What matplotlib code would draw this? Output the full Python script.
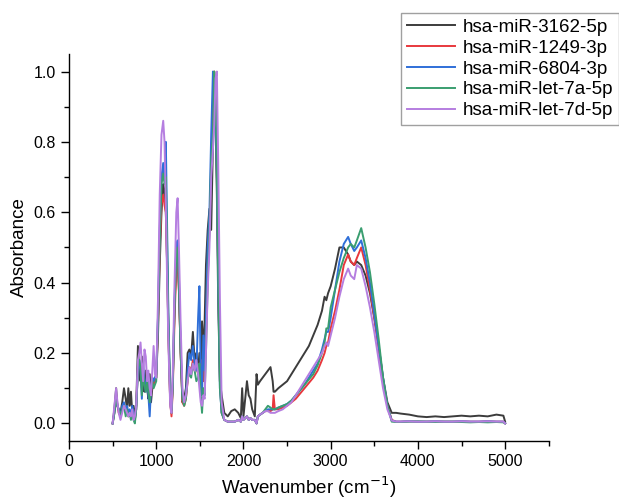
import matplotlib
matplotlib.use("Agg")
import matplotlib.pyplot as plt
from matplotlib.ticker import MultipleLocator

plt.rcParams['font.family'] = ['Liberation Sans', 'DejaVu Sans']

wavenumber = [500, 520, 540, 555, 570, 590, 610, 630, 650, 665, 680, 695, 710, 725, 740, 755, 770, 790,
              805, 820, 835, 850, 865, 880, 895, 910, 925, 940, 955, 970, 985, 1000, 1020, 1040, 1060,
              1080, 1095, 1110, 1125, 1140, 1160, 1175, 1190, 1210, 1230, 1245, 1260, 1280, 1300, 1320,
              1340, 1360, 1380, 1400, 1420, 1440, 1460, 1480, 1495, 1510, 1525, 1540, 1555, 1570, 1590,
              1610, 1630, 1650, 1665, 1680, 1695, 1710, 1730, 1750, 1780, 1820, 1860, 1900, 1940, 1970,
              1985, 2000, 2020, 2040, 2060, 2080, 2100, 2130, 2150, 2165, 2190, 2220, 2250, 2280, 2310,
              2335, 2345, 2360, 2400, 2450, 2500, 2550, 2600, 2650, 2700, 2750, 2800, 2850, 2900, 2930,
              2950, 2970, 3000, 3050, 3100, 3150, 3200, 3230, 3270, 3300, 3350, 3400, 3450, 3500, 3550,
              3600, 3650, 3700, 3750, 3800, 3900, 4000, 4100, 4200, 4300, 4400, 4500, 4600, 4700, 4800,
              4900, 4980, 5000]

mir_3162 = [0.0, 0.04, 0.10, 0.05, 0.04, 0.03, 0.06, 0.10, 0.07, 0.04, 0.10, 0.05, 0.09, 0.03, 0.05, 0.02, 0.05, 0.22,
            0.15, 0.12, 0.19, 0.10, 0.09, 0.15, 0.10, 0.07, 0.14, 0.06, 0.10, 0.12, 0.13, 0.13, 0.25, 0.45, 0.60,
            0.68, 0.66, 0.60, 0.45, 0.25, 0.06, 0.03, 0.12, 0.33, 0.46, 0.48, 0.38, 0.20, 0.06, 0.07,
            0.10, 0.20, 0.21, 0.19, 0.26, 0.18, 0.20, 0.15, 0.20, 0.12, 0.29, 0.20, 0.29, 0.45, 0.55,
            0.61, 0.55, 0.80, 0.98, 0.85, 0.65, 0.35, 0.12, 0.08, 0.03, 0.02, 0.035, 0.04, 0.03, 0.015,
            0.10, 0.02, 0.07, 0.12, 0.08, 0.07, 0.04, 0.02, 0.14, 0.11, 0.12, 0.13, 0.14, 0.15, 0.16,
            0.12, 0.09, 0.09, 0.10, 0.11, 0.12, 0.14, 0.16, 0.18, 0.20, 0.22, 0.25, 0.28, 0.32, 0.36,
            0.35, 0.37, 0.39, 0.44, 0.50, 0.50, 0.48, 0.46, 0.45, 0.46, 0.45, 0.42, 0.37, 0.30, 0.22,
            0.13, 0.06, 0.03, 0.03, 0.028, 0.025, 0.02, 0.018, 0.02, 0.018, 0.02, 0.022, 0.02, 0.022, 0.02,
            0.025, 0.022, 0.005]

mir_1249 = [0.0, 0.03, 0.08, 0.05, 0.03, 0.02, 0.04, 0.05, 0.03, 0.04, 0.02, 0.03, 0.02, 0.04, 0.02, 0.01, 0.04, 0.16,
            0.17, 0.16, 0.10, 0.15, 0.12, 0.10, 0.12, 0.09, 0.07, 0.09, 0.12, 0.11, 0.12, 0.13, 0.28, 0.50, 0.62,
            0.65, 0.62, 0.60, 0.45, 0.25, 0.06, 0.02, 0.10, 0.30, 0.44, 0.46, 0.38, 0.20, 0.06, 0.05,
            0.07, 0.12, 0.16, 0.15, 0.18, 0.15, 0.16, 0.14, 0.17, 0.12, 0.18, 0.12, 0.15, 0.25, 0.42,
            0.55, 0.72, 0.90, 1.0, 0.92, 0.72, 0.42, 0.12, 0.03, 0.01, 0.005, 0.005, 0.005, 0.01, 0.005,
            0.02, 0.01, 0.015, 0.02, 0.01, 0.015, 0.01, 0.01, 0.0, 0.02, 0.025, 0.03, 0.035, 0.035, 0.035,
            0.04, 0.08, 0.04, 0.04, 0.045, 0.05, 0.06, 0.07, 0.085, 0.10, 0.115, 0.13, 0.15, 0.18, 0.20,
            0.22, 0.23, 0.27, 0.32, 0.38, 0.45, 0.48, 0.46, 0.45, 0.47, 0.50, 0.45, 0.38, 0.30, 0.21,
            0.12, 0.05, 0.01, 0.005, 0.005, 0.006, 0.005, 0.005, 0.006, 0.005, 0.005, 0.006, 0.005, 0.005, 0.006,
            0.005, 0.005, 0.0]

mir_6804 = [0.0, 0.03, 0.07, 0.05, 0.04, 0.02, 0.05, 0.06, 0.03, 0.05, 0.03, 0.04, 0.02, 0.05, 0.03, 0.01, 0.04, 0.15,
            0.18, 0.15, 0.07, 0.17, 0.12, 0.09, 0.14, 0.08, 0.02, 0.10, 0.13, 0.12, 0.13, 0.14, 0.30, 0.55, 0.70,
            0.74, 0.70, 0.80, 0.55, 0.30, 0.08, 0.04, 0.12, 0.35, 0.50, 0.52, 0.42, 0.22, 0.08, 0.06,
            0.08, 0.15, 0.20, 0.18, 0.22, 0.17, 0.15, 0.30, 0.39, 0.15, 0.08, 0.25, 0.15, 0.30, 0.50,
            0.60, 0.82, 1.0, 0.95, 0.88, 0.70, 0.40, 0.10, 0.03, 0.01, 0.005, 0.005, 0.005, 0.01, 0.005,
            0.02, 0.01, 0.015, 0.02, 0.01, 0.015, 0.01, 0.01, 0.0, 0.02, 0.025, 0.03, 0.035, 0.04, 0.04,
            0.04, 0.04, 0.04, 0.045, 0.05, 0.055, 0.065, 0.08, 0.095, 0.11, 0.13, 0.15, 0.17, 0.21, 0.24,
            0.26, 0.26, 0.30, 0.38, 0.46, 0.51, 0.53, 0.51, 0.49, 0.50, 0.52, 0.47, 0.40, 0.31, 0.22,
            0.13, 0.05, 0.008, 0.005, 0.005, 0.006, 0.005, 0.005, 0.006, 0.005, 0.005, 0.006, 0.005, 0.005, 0.006,
            0.005, 0.005, 0.0]

mir_let7a = [0.0, 0.03, 0.08, 0.05, 0.04, 0.02, 0.04, 0.05, 0.02, 0.04, 0.02, 0.03, 0.01, 0.03, 0.01, 0.0, 0.04, 0.16,
             0.18, 0.16, 0.08, 0.14, 0.11, 0.09, 0.12, 0.09, 0.06, 0.10, 0.12, 0.10, 0.11, 0.12, 0.30, 0.52, 0.68,
             0.71, 0.68, 0.70, 0.50, 0.28, 0.08, 0.03, 0.11, 0.34, 0.48, 0.50, 0.40, 0.20, 0.07, 0.05,
             0.07, 0.13, 0.14, 0.13, 0.17, 0.15, 0.12, 0.13, 0.17, 0.08, 0.03, 0.10, 0.08, 0.20, 0.40,
             0.55, 0.75, 0.82, 1.0, 0.95, 0.72, 0.42, 0.10, 0.03, 0.01, 0.005, 0.005, 0.005, 0.01, 0.005,
             0.02, 0.01, 0.015, 0.02, 0.01, 0.015, 0.01, 0.01, 0.0, 0.02, 0.025, 0.03, 0.04, 0.05, 0.045,
             0.04, 0.04, 0.04, 0.045, 0.05, 0.055, 0.065, 0.08, 0.095, 0.11, 0.125, 0.14, 0.165, 0.20, 0.23,
             0.27, 0.27, 0.33, 0.38, 0.43, 0.47, 0.50, 0.51, 0.50, 0.52, 0.555, 0.50, 0.43, 0.34, 0.24,
             0.13, 0.05, 0.005, 0.004, 0.004, 0.005, 0.006, 0.005, 0.004, 0.005, 0.005, 0.004, 0.003, 0.004, 0.003,
             0.004, 0.003, 0.0]

mir_let7d = [0.0, 0.05, 0.10, 0.06, 0.03, 0.01, 0.03, 0.05, 0.04, 0.03, 0.02, 0.03, 0.02, 0.04, 0.01, 0.02, 0.05, 0.18,
             0.20, 0.23, 0.17, 0.12, 0.21, 0.19, 0.12, 0.15, 0.10, 0.08, 0.15, 0.22, 0.14, 0.13, 0.35, 0.65, 0.82,
             0.86, 0.80, 0.62, 0.40, 0.22, 0.05, 0.03, 0.15, 0.40, 0.60, 0.64, 0.50, 0.28, 0.10, 0.06,
             0.08, 0.12, 0.16, 0.14, 0.17, 0.15, 0.18, 0.14, 0.10, 0.06, 0.05, 0.08, 0.07, 0.20, 0.38,
             0.50, 0.70, 0.78, 0.85, 0.98, 1.0, 0.75, 0.35, 0.06, 0.01, 0.005, 0.005, 0.005, 0.01, 0.005,
             0.02, 0.01, 0.015, 0.02, 0.01, 0.015, 0.01, 0.01, 0.0, 0.02, 0.025, 0.03, 0.035, 0.035, 0.03,
             0.03, 0.03, 0.03, 0.035, 0.04, 0.05, 0.06, 0.08, 0.10, 0.12, 0.14, 0.16, 0.18, 0.20, 0.22,
             0.23, 0.22, 0.25, 0.30, 0.36, 0.41, 0.44, 0.42, 0.41, 0.45, 0.44, 0.39, 0.33, 0.26, 0.18,
             0.10, 0.04, 0.008, 0.005, 0.005, 0.006, 0.005, 0.005, 0.006, 0.005, 0.005, 0.006, 0.005, 0.005, 0.006,
             0.005, 0.005, 0.0]

labels = ['hsa-miR-3162-5p', 'hsa-miR-1249-3p', 'hsa-miR-6804-3p', 'hsa-miR-let-7a-5p', 'hsa-miR-let-7d-5p']
colors = ['#3c3c3c', '#e8383d', '#2f6fd8', '#3a9e70', '#b57ee0']
series = [mir_3162, mir_1249, mir_6804, mir_let7a, mir_let7d]

fig = plt.figure(figsize=(6.19, 5.04), dpi=100)
ax = fig.add_axes([0.1115, 0.125, 0.775, 0.768])
for y, lab, c in zip(series, labels, colors):
    ax.plot(wavenumber, y, color=c, lw=1.4, label=lab)

ax.set_xlim(0, 5500)
ax.set_ylim(-0.05, 1.05)
ax.xaxis.set_major_locator(MultipleLocator(1000))
ax.xaxis.set_minor_locator(MultipleLocator(500))
ax.yaxis.set_major_locator(MultipleLocator(0.2))
ax.yaxis.set_minor_locator(MultipleLocator(0.1))
ax.yaxis.set_major_formatter(matplotlib.ticker.FormatStrFormatter('%.1f'))
for s in ['top', 'right']:
    ax.spines[s].set_visible(False)
for s in ['left', 'bottom']:
    ax.spines[s].set_linewidth(1.0)
ax.tick_params(which='major', direction='out', length=6, width=1.0, labelsize=11.5)
ax.tick_params(which='minor', direction='out', length=3.5, width=1.0)
ax.set_xlabel('Wavenumber (cm$^{-1}$)', fontsize=13.5)
ax.set_ylabel('Absorbance', fontsize=13.5)

leg = fig.legend(loc='upper right', bbox_to_anchor=(1.0, 0.974), fontsize=13.5,
                 frameon=True, fancybox=False, edgecolor='#888888', handlelength=2.6,
                 borderaxespad=0.0, labelspacing=0.2, handletextpad=0.4, borderpad=0.3)
leg.get_frame().set_linewidth(1.0)

fig.savefig('out.png', dpi=100)
